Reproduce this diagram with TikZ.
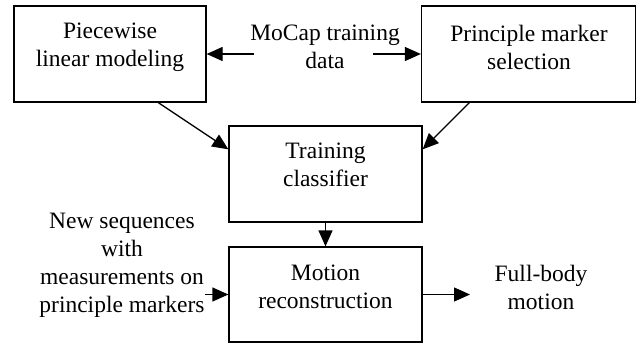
\documentclass[tikz,border=0pt]{standalone}
\usepackage{fontspec}
\setmainfont{Liberation Serif}
\usetikzlibrary{arrows.meta,calc}
\begin{document}
\begin{tikzpicture}[x=1pt,y=-1pt,
  box/.style={draw,line width=1.3pt,inner sep=0pt},
  lbl/.style={align=center,inner sep=1pt,font=\fontsize{23.5}{28}\selectfont},
  arr/.style={line width=1.3pt,-{Triangle[length=16pt,width=14pt]}}]
\useasboundingbox (0,0) rectangle (637,343);
\node[box,minimum width=192pt,minimum height=96pt] (b1) at (110,54) {};
\node[box,minimum width=214pt,minimum height=96pt] (b2) at (528.5,54) {};
\node[box,minimum width=193pt,minimum height=96pt] (b3) at (325.5,174) {};
\node[box,minimum width=193pt,minimum height=95pt] (b4) at (325.5,294.5) {};
\node[lbl] (t1) at (110,47) {Piecewise\\linear modeling};
\node[lbl] (t2) at (529,47) {Principle marker\\selection};
\node[lbl] (t3) at (325.5,165) {Training\\classifier};
\node[lbl] (t4) at (325.5,287) {Motion\\reconstruction};
\node[lbl] (mc) at (325,47) {MoCap training\\data};
\node[lbl] (ns) at (122,265) {New sequences\\with\\measurements on\\principle markers};
\node[lbl] (fb) at (541,287) {Full-body\\motion};
\coordinate (m1) at (254,54);
\coordinate (m2) at (373,54);
\draw[arr] (m1) -- (b1.east |- m1);
\draw[arr] (m2) -- (b2.west |- m2);
\draw[arr] ($(b1.south west)!0.75!(b1.south east)$) -- ($(b3.north west)+(0,24)$);
\draw[arr] ($(b2.south west)!0.225!(b2.south east)$) -- ($(b3.north east)+(0,24)$);
\draw[arr] (b3.south) -- (b4.north);
\coordinate (n1) at (205,294.5);
\draw[arr] (n1) -- (b4.west);
\coordinate (f1) at (470,294.5);
\draw[arr] (b4.east) -- (f1);
\end{tikzpicture}
\end{document}
